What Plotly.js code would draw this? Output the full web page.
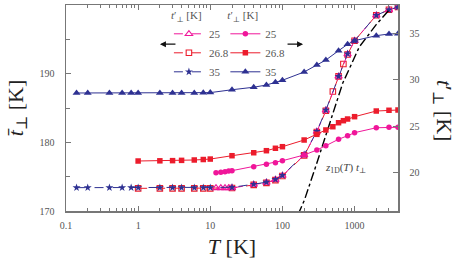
<!DOCTYPE html>
<html><head><meta charset="utf-8">
<script src="https://cdn.plot.ly/plotly-3.0.1.min.js"></script>
<style>body{margin:0;background:#fff}#chart{width:463px;height:268px}</style>
</head><body><div id="chart"></div>
<script>
// ---- data (T in K) ----
const T35 = [0.14,0.2,0.4,0.6,0.8,1,2,3,4,6,8,10,20,40,60,80,100,200,300,400,600,800,1000,2000,3000,4000];
const T268 = [1,2,3,4,6,8,10,20,40,60,80,100,200,300,400,500,600,700,800,1000,2000,3000,4000];
const T25 = [12,14,16,18,20,40,60,80,100,200,300,400,600,800,1000,2000,3000,4000];

// left axis: t-bar_perp [K]
const tbar35 = [173.4,173.4,173.4,173.4,173.4,173.4,173.4,173.4,173.4,173.4,173.4,173.4,173.45,173.9,174.2,174.6,175.2,178.2,181.6,184.7,189.6,192.9,194.8,198.5,199.3,199.7];
const tbar268 = [173.3,173.3,173.3,173.3,173.3,173.3,173.3,173.35,173.8,174.1,174.5,175.1,178.1,181.5,184.6,187.4,189.6,191.4,192.8,194.8,198.5,199.3,199.7];
const tbar25 = [173.35,173.35,173.35,173.35,173.35,173.85,174.15,174.55,175.15,178.15,181.55,184.65,189.6,192.85,194.8,198.5,199.3,199.7];

// right axis: t'_perp [K]
const tp35 = [28.58,28.58,28.58,28.58,28.58,28.58,28.58,28.58,28.58,28.59,28.6,28.62,28.93,29.2,29.44,29.73,29.95,30.84,31.6,32.13,33.13,33.82,34.21,34.75,34.93,34.96];
const tp268 = [21.26,21.28,21.3,21.33,21.37,21.42,21.47,21.83,22.15,22.37,22.63,22.8,23.52,24.13,24.6,24.95,25.38,25.6,25.78,26.03,26.64,26.72,26.75];
const tp25 = [20.0,20.04,20.11,20.18,20.22,20.65,20.9,21.08,21.29,21.91,22.44,22.91,23.6,23.98,24.31,24.84,24.89,24.89];

// z_1D(T) t_perp curve (left axis)
const Tz = [165,202,294,424,584,684,1164,1982,3027];
const zt = [169.5,171.6,176.7,181.8,186.2,188.6,193.9,197.1,199.3];

const xTicks = [0.1,1,10,100,1000];
const xTickText = ['0.1','1','10','100','1000'];
const yTicks = [170,180,190,200];
const y2Ticks = [20,25,30,35];
const legendTitle = '<i>t</i>′<sub>⊥</sub> [K]';

// ---- styles ----
const PINK = '#f0169a', RED = '#ec1c2c', BLUE = '#2e3192';
const SERIF = 'Liberation Serif, DejaVu Serif, serif';

const traces = [
  {x:T268, y:tbar268, name:'26.8', legend:'legend', legendrank:2, mode:'lines+markers',
   line:{color:RED, width:1, dash:'dash'}, marker:{symbol:'square-open', size:5.5, color:RED, line:{width:1.1}}},
  {x:T25, y:tbar25, name:'25', legend:'legend', legendrank:1, mode:'lines+markers',
   line:{color:PINK, width:1, dash:'dash'}, marker:{symbol:'triangle-up-open', size:6.5, color:PINK, line:{width:1.1}}},
  {x:T35, y:tbar35, name:'35', legend:'legend', legendrank:3, mode:'lines+markers',
   line:{color:BLUE, width:1, dash:'dash'}, marker:{symbol:'star', size:6, color:BLUE}},
  {x:T25, y:tp25, name:'25', legend:'legend2', legendrank:1, yaxis:'y2', mode:'lines+markers',
   line:{color:PINK, width:1}, marker:{symbol:'circle', size:5.5, color:PINK}},
  {x:T268, y:tp268, name:'26.8', legend:'legend2', legendrank:2, yaxis:'y2', mode:'lines+markers',
   line:{color:RED, width:1}, marker:{symbol:'square', size:5.5, color:RED}},
  {x:T35, y:tp35, name:'35', legend:'legend2', legendrank:3, yaxis:'y2', mode:'lines+markers',
   line:{color:BLUE, width:1}, marker:{symbol:'triangle-up', size:7, color:BLUE}},
  {x:Tz, y:zt, name:'z1D', showlegend:false, mode:'lines', hoverinfo:'skip',
   line:{color:'#000', width:1.4, dash:'dashdot'}}
];

const axCol = '#777';
const legFont = {family:SERIF, size:11, color:'#555'};
const layout = {
  width:463, height:268,
  margin:{l:66, r:65, t:5, b:57},
  paper_bgcolor:'#fff', plot_bgcolor:'#fff',
  font:{family:SERIF, size:10, color:'#555'},
  showlegend:true,
  legend:{x:0.31, y:1.0, xanchor:'left', yanchor:'top', bgcolor:'rgba(0,0,0,0)',
    font:legFont, traceorder:'normal', title:{text:legendTitle, font:legFont}},
  legend2:{x:0.48, y:1.0, xanchor:'left', yanchor:'top', bgcolor:'rgba(0,0,0,0)',
    font:legFont, traceorder:'normal', title:{text:legendTitle, font:legFont}},
  xaxis:{type:'log', range:[-1, Math.log10(4000)], tickmode:'array', tickvals:xTicks, ticktext:xTickText,
    ticks:'inside', ticklen:5, tickcolor:axCol, showline:true, linecolor:axCol, linewidth:1.5,
    mirror:'ticks', showgrid:false, zeroline:false, ticklabelstandoff:4,
    minor:{dtick:'D1', ticks:'inside', ticklen:3, tickcolor:axCol, showgrid:false},
    title:{text:'<i>T</i> [K]', font:{family:SERIF, size:22, color:'#222'}, standoff:9}},
  yaxis:{range:[170,200], tickmode:'array', tickvals:yTicks, ticks:'inside', ticklen:5, tickcolor:axCol,
    showline:true, linecolor:axCol, linewidth:1.5, showgrid:false, zeroline:false, ticklabelstandoff:8,
    minor:{dtick:5, ticks:'inside', ticklen:4, tickcolor:axCol, showgrid:false},
    title:{text:'<i>t̄</i><sub>⊥</sub> [K]', font:{family:SERIF, size:22, color:'#222'}, standoff:10}},
  yaxis2:{overlaying:'y', side:'right', range:[15.88,38.05], tickmode:'array', tickvals:y2Ticks,
    ticks:'inside', ticklen:5, tickcolor:axCol, showline:true, linecolor:axCol, linewidth:1.5,
    showgrid:false, zeroline:false, ticklabelstandoff:8},
  annotations:[
    {xref:'paper', yref:'paper', x:1.136, y:0.49, xanchor:'center', yanchor:'middle',
     text:'<i>t</i>′<sub>⊥</sub> [K]', textangle:90,
     showarrow:false, font:{family:SERIF, size:22, color:'#222'}},
    {xref:'x', yref:'y', x:Math.log10(760), y:176.3, text:'<i>z</i><sub>1D</sub>(<i>T</i>) <i>t</i><sub>⊥</sub>',
     showarrow:false, font:{family:SERIF, size:11, color:'#444'}},
    {xref:'paper', yref:'paper', x:0.283, y:0.81, ax:17, ay:0, text:'', showarrow:true,
     arrowhead:2, arrowsize:1, arrowwidth:1.2, arrowcolor:'#111'},
    {xref:'paper', yref:'paper', x:0.714, y:0.81, ax:-17, ay:0, text:'', showarrow:true,
     arrowhead:2, arrowsize:1, arrowwidth:1.2, arrowcolor:'#111'}
  ]
};
Plotly.newPlot('chart', traces, layout, {displayModeBar:false, staticPlot:true});
</script></body></html>
